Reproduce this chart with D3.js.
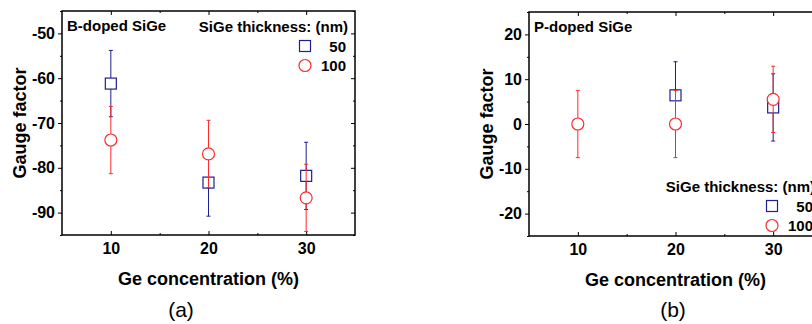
<!DOCTYPE html>
<html>
<head>
<meta charset="utf-8">
<script src="https://cdn.jsdelivr.net/npm/d3@7/dist/d3.min.js"></script>
<style>
  html, body { margin: 0; padding: 0; background: #fff; }
  svg { display: block; }
  text { font-family: "Liberation Sans", Arial, Helvetica, sans-serif; }
</style>
</head>
<body>
<svg id="fig" width="812" height="324"></svg>
<script>
// Ge concentration (%) on the x axis
const conc = [10, 20, 30];

// B-doped SiGe gauge factors with error half-widths
const gfB50 = [-61.2, -83.3, -81.8];
const errB50 = [7.4, 7.5, 7.5];
const gfB100 = [-73.8, -76.9, -86.7];
const errB100 = [7.5, 7.5, 7.5];

// P-doped SiGe gauge factors (no 50 nm sample at 10 %)
const gfP50 = [null, 6.4, 3.7];
const errP50 = [null, 7.5, 7.5];
const gfP100 = [0.0, 0.0, 5.5];
const errP100 = [7.5, 7.5, 7.4];

// Axis ticks
const xTicks = [10, 20, 30];
const xMinor = [15, 25];
const yTicksB = [-90, -80, -70, -60, -50];
const yMinorB = [-95, -85, -75, -65, -55, -45];
const yTicksP = [-20, -10, 0, 10, 20];
const yMinorP = [-25, -15, -5, 5, 15, 25];

const thicknessLabels = ["50", "100"];
const BLUE = "#1f1f8f";
const RED = "#ff2a2a";

const svg = d3.select("#fig");

function panel(opt) {
  const x = d3.scaleLinear().domain([5, 35]).range([opt.left, opt.left + 293]);
  const y = d3.scaleLinear().domain(opt.yDomain).range([opt.bottom, opt.top]);
  const g = svg.append("g");
  const fmt = d => String(d);

  // bottom & top ticks (inward), labels on bottom
  g.append("g").attr("transform", `translate(0,${opt.bottom})`)
    .call(d3.axisBottom(x).tickValues(xTicks).tickSize(-4).tickPadding(8).tickFormat(fmt));
  g.append("g").attr("transform", `translate(0,${opt.bottom})`)
    .call(d3.axisBottom(x).tickValues(xMinor).tickSize(-2).tickFormat(""));
  g.append("g").attr("transform", `translate(0,${opt.top})`)
    .call(d3.axisTop(x).tickValues(xTicks).tickSize(-4).tickFormat(""));
  g.append("g").attr("transform", `translate(0,${opt.top})`)
    .call(d3.axisTop(x).tickValues(xMinor).tickSize(-2).tickFormat(""));

  // left ticks (outward) with labels, right ticks (inward)
  g.append("g").attr("transform", `translate(${opt.left},0)`)
    .call(d3.axisLeft(y).tickValues(opt.yTicks).tickSize(4).tickPadding(3).tickFormat(fmt));
  g.append("g").attr("transform", `translate(${opt.left},0)`)
    .call(d3.axisLeft(y).tickValues(opt.yMinor).tickSize(2).tickFormat(""));
  g.append("g").attr("transform", `translate(${opt.left + 293},0)`)
    .call(d3.axisRight(y).tickValues(opt.yTicks).tickSize(-4).tickFormat(""));
  g.append("g").attr("transform", `translate(${opt.left + 293},0)`)
    .call(d3.axisRight(y).tickValues(opt.yMinor).tickSize(-2).tickFormat(""));

  g.selectAll(".domain").remove();
  g.selectAll(".tick line").attr("stroke", "#000").attr("stroke-width", 1);
  g.selectAll(".tick text")
    .attr("font-size", 16).attr("font-weight", "bold").attr("fill", "#000")
    .style("font-family", '"Liberation Sans", Arial, sans-serif');

  // frame
  g.append("rect")
    .attr("x", opt.left).attr("y", opt.top)
    .attr("width", 293).attr("height", opt.bottom - opt.top)
    .attr("fill", "none").attr("stroke", "#000").attr("stroke-width", 1.5);

  // series: error bars then markers
  const series = [
    { v: opt.s50, e: opt.e50, color: BLUE, shape: "square" },
    { v: opt.s100, e: opt.e100, color: RED, shape: "circle" }
  ];
  series.forEach(s => {
    const pts = conc.map((c, i) => ({ c, v: s.v[i], e: s.e[i] })).filter(p => p.v !== null);
    const eg = g.append("g").attr("stroke", s.color).attr("stroke-width", 1).attr("fill", "none");
    eg.selectAll("line.bar").data(pts).join("line").attr("class", "bar")
      .attr("x1", p => x(p.c)).attr("x2", p => x(p.c))
      .attr("y1", p => y(p.v - p.e)).attr("y2", p => y(p.v + p.e));
    eg.selectAll("line.capt").data(pts).join("line").attr("class", "capt")
      .attr("x1", p => x(p.c) - 2).attr("x2", p => x(p.c) + 2)
      .attr("y1", p => y(p.v + p.e)).attr("y2", p => y(p.v + p.e));
    eg.selectAll("line.capb").data(pts).join("line").attr("class", "capb")
      .attr("x1", p => x(p.c) - 2).attr("x2", p => x(p.c) + 2)
      .attr("y1", p => y(p.v - p.e)).attr("y2", p => y(p.v - p.e));
    const mg = g.append("g").attr("stroke", s.color).attr("stroke-width", 1.2).attr("fill", "#fff");
    if (s.shape === "square") {
      mg.selectAll("rect").data(pts).join("rect")
        .attr("x", p => x(p.c) - 5.5).attr("y", p => y(p.v) - 5.5)
        .attr("width", 11).attr("height", 11);
    } else {
      mg.selectAll("circle").data(pts).join("circle")
        .attr("cx", p => x(p.c)).attr("cy", p => y(p.v)).attr("r", 6);
    }
  });

  // sample label
  g.append("text").attr("x", opt.left + 5).attr("y", opt.top + 20)
    .attr("font-size", 15).attr("font-weight", "bold").text(opt.title);

  // legend
  const right = opt.left + 293;
  g.append("text").attr("x", right - 7).attr("y", opt.legendY)
    .attr("text-anchor", "end").attr("font-size", 15).attr("font-weight", "bold")
    .text("SiGe thickness: (nm)");
  const mx = right - 50;
  g.append("rect").attr("x", mx - 5.5).attr("y", opt.legendY + 14 - 5.5)
    .attr("width", 11).attr("height", 11).attr("fill", "#fff")
    .attr("stroke", BLUE).attr("stroke-width", 1.2);
  g.append("circle").attr("cx", mx).attr("cy", opt.legendY + 33.5).attr("r", 6)
    .attr("fill", "#fff").attr("stroke", RED).attr("stroke-width", 1.2);
  thicknessLabels.forEach((t, i) => {
    g.append("text").attr("x", right - 9).attr("y", opt.legendY + 19.5 + i * 19.5)
      .attr("text-anchor", "end").attr("font-size", 15).attr("font-weight", "bold").text(t);
  });

  // axis titles
  const cx = opt.left + 146.5;
  g.append("text").attr("x", cx).attr("y", opt.bottom + 50)
    .attr("text-anchor", "middle").attr("font-size", 18).attr("font-weight", "bold")
    .text("Ge concentration (%)");
  g.append("text")
    .attr("transform", `translate(${opt.left - 36},${(opt.top + opt.bottom) / 2}) rotate(-90)`)
    .attr("text-anchor", "middle").attr("font-size", 18).attr("font-weight", "bold")
    .text("Gauge factor");

  // panel letter
  g.append("text").attr("x", opt.letterX).attr("y", 317)
    .attr("text-anchor", "middle").attr("font-size", 21).text(opt.letter);
}

panel({
  left: 62, top: 11, bottom: 235, yDomain: [-95, -45],
  yTicks: yTicksB, yMinor: yMinorB,
  s50: gfB50, e50: errB50, s100: gfB100, e100: errB100,
  title: "B-doped SiGe", legendY: 32, letter: "(a)", letterX: 181
});

panel({
  left: 529, top: 12, bottom: 236, yDomain: [-25, 25],
  yTicks: yTicksP, yMinor: yMinorP,
  s50: gfP50, e50: errP50, s100: gfP100, e100: errP100,
  title: "P-doped SiGe", legendY: 192, letter: "(b)", letterX: 673
});
</script>
</body>
</html>
